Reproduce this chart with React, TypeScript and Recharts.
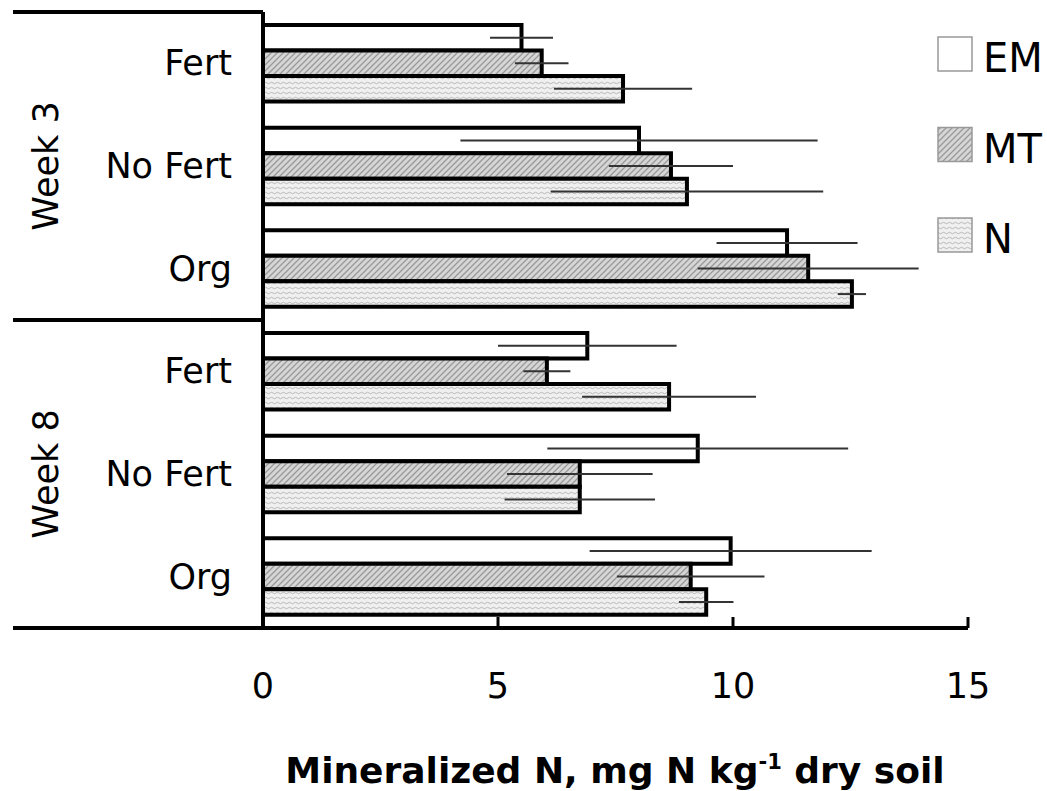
import { BarChart, Bar, XAxis, YAxis, ErrorBar } from "recharts";

const CATEGORIES = ["W3 Fert", "W3 No Fert", "W3 Org", "W8 Fert", "W8 No Fert", "W8 Org"];
const TREATMENTS = ["Fert", "No Fert", "Org", "Fert", "No Fert", "Org"];
const WEEKS = ["Week 3", "Week 8"];
const X_TICKS = [0, 5, 10, 15];

const EM = [5.5, 8.0, 11.15, 6.9, 9.25, 9.95];
const EM_ERR = [0.67, 3.8, 1.5, 1.9, 3.2, 3.0];
const MT = [5.93, 8.68, 11.6, 6.04, 6.74, 9.1];
const MT_ERR = [0.57, 1.32, 2.35, 0.5, 1.55, 1.57];
const N = [7.66, 9.02, 12.53, 8.64, 6.74, 9.43];
const N_ERR = [1.47, 2.9, 0.3, 1.85, 1.6, 0.58];

const SERIES = [
  { key: "EM", err: "EMerr", fill: "#ffffff" },
  { key: "MT", err: "MTerr", fill: "url(#patMT)" },
  { key: "N", err: "Nerr", fill: "url(#patN)" },
];

const FONT = "'DejaVu Sans', Verdana, sans-serif";
const W = 1047;
const H = 791;
const PLOT_LEFT = 263;
const PLOT_TOP = 12;
const PLOT_BOTTOM = 628;
const BAND = (PLOT_BOTTOM - PLOT_TOP) / CATEGORIES.length;

const data = CATEGORIES.map((cat, i) => ({
  cat,
  EM: EM[i],
  EMerr: EM_ERR[i],
  MT: MT[i],
  MTerr: MT_ERR[i],
  N: N[i],
  Nerr: N_ERR[i],
}));

const YTick = (props: any) => {
  const { y, payload } = props;
  const i = CATEGORIES.indexOf(payload.value);
  return (
    <g>
      <text
        x={232}
        y={y}
        dy={12}
        textAnchor="end"
        fontFamily={FONT}
        fontSize={35}
        fill="#000"
      >
        {TREATMENTS[i]}
      </text>
      {i % 3 === 0 && (
        <line x1={13} x2={PLOT_LEFT} y1={y - BAND / 2} y2={y - BAND / 2} stroke="#000" strokeWidth={4} />
      )}
      {i === CATEGORIES.length - 1 && (
        <line x1={13} x2={PLOT_LEFT} y1={y + BAND / 2} y2={y + BAND / 2} stroke="#000" strokeWidth={4} />
      )}
      {i % 3 === 1 && (
        <text
          x={46}
          y={y}
          textAnchor="middle"
          dominantBaseline="central"
          transform={`rotate(-90 46 ${y})`}
          fontFamily={FONT}
          fontSize={35}
          fill="#000"
        >
          {WEEKS[Math.floor(i / 3)]}
        </text>
      )}
    </g>
  );
};

const XTick = (props: any) => {
  const { x, payload } = props;
  return (
    <g>
      <line x1={x} x2={x} y1={PLOT_BOTTOM} y2={PLOT_BOTTOM - 11} stroke="#000" strokeWidth={3} />
      <text x={x} y={698} textAnchor="middle" fontFamily={FONT} fontSize={35} fill="#000">
        {payload.value}
      </text>
    </g>
  );
};

const AxisTitle = () => (
  <text x={615} y={783} textAnchor="middle" fontFamily={FONT} fontSize={36} fontWeight="bold" fill="#000">
    Mineralized N, mg N kg
    <tspan dy={-14} fontSize={21}>-1</tspan>
    <tspan dy={14}> dry soil</tspan>
  </text>
);

const LegendBox = () => (
  <svg width={117} height={260} style={{ position: "absolute", left: 930, top: 30 }}>
    {SERIES.map((s, i) => (
      <g key={s.key}>
        <rect x={8} y={7 + i * 90.5} width={34} height={34} fill={s.fill} stroke="#999" strokeWidth={1.5} />
        <text x={53} y={42 + i * 90.5} fontFamily={FONT} fontSize={40} fill="#000">
          {s.key}
        </text>
      </g>
    ))}
  </svg>
);

export default function App() {
  return (
    <div style={{ position: "relative", width: W, height: H, background: "#fff" }}>
      <style>{"body{margin:0}"}</style>
      <BarChart
        width={W}
        height={H}
        data={data}
        layout="vertical"
        margin={{ top: PLOT_TOP, right: W - 968, bottom: 0, left: 13 }}
        barGap={0}
        barSize={25.5}
      >
        <defs>
          <pattern id="patMT" width="6" height="6" patternUnits="userSpaceOnUse">
            <rect width="6" height="6" fill="#d6d6d6" />
            <path d="M0,6 L6,0 M-1,1 L1,-1 M5,7 L7,5" stroke="#999" strokeWidth="1.3" />
          </pattern>
          <pattern id="patN" width="6" height="5" patternUnits="userSpaceOnUse">
            <rect width="6" height="5" fill="#f0f0f0" />
            <path d="M0,3 Q1.5,1.5 3,3 T6,3" stroke="#b8b8b8" strokeWidth="1" fill="none" />
          </pattern>
        </defs>
        <XAxis
          type="number"
          domain={[0, 15]}
          ticks={X_TICKS}
          height={H - PLOT_BOTTOM}
          axisLine={{ stroke: "#000", strokeWidth: 4 }}
          tickLine={false}
          tick={<XTick />}
          label={<AxisTitle />}
        />
        <YAxis
          type="category"
          dataKey="cat"
          width={PLOT_LEFT - 13}
          axisLine={{ stroke: "#000", strokeWidth: 4 }}
          tickLine={false}
          tick={<YTick />}
          interval={0}
        />
        {SERIES.map((s) => (
          <Bar
            key={s.key}
            dataKey={s.key}
            fill={s.fill}
            stroke="#000"
            strokeWidth={4}
            isAnimationActive={false}
          >
            <ErrorBar dataKey={s.err} direction="x" width={0} stroke="#333" strokeWidth={2} />
          </Bar>
        ))}
      </BarChart>
      <LegendBox />
    </div>
  );
}
